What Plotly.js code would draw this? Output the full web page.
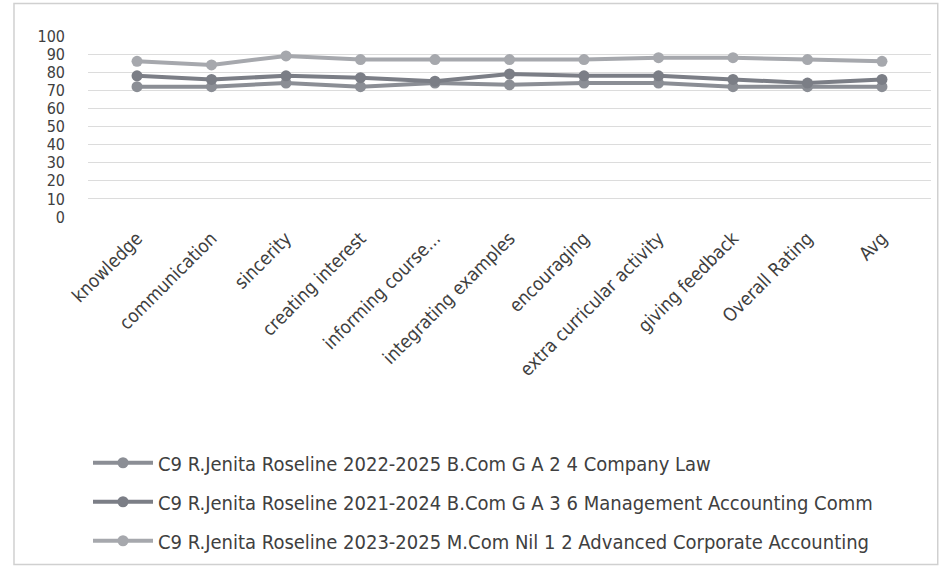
<!DOCTYPE html>
<html>
<head>
<meta charset="utf-8">
<script src="https://cdn.plot.ly/plotly-3.0.1.min.js"></script>
<style>
html,body{margin:0;padding:0;background:#fff;}
#chart{width:942px;height:569px;}
</style>
</head>
<body>
<div id="chart"></div>
<script>
const categories = ["knowledge","communication","sincerity","creating interest","informing course...","integrating examples","encouraging","extra curricular activity","giving feedback","Overall Rating","Avg"];
const seriesNames = [
  "C9 R.Jenita Roseline 2022-2025 B.Com G A 2 4 Company Law",
  "C9 R.Jenita Roseline 2021-2024 B.Com G A 3 6 Management Accounting Comm",
  "C9 R.Jenita Roseline 2023-2025 M.Com Nil 1 2 Advanced Corporate Accounting"
];
const companyLaw = [72, 72, 74, 72, 74, 73, 74, 74, 72, 72, 72];
const managementAccounting = [78, 76, 78, 77, 75, 79, 78, 78, 76, 74, 76];
const advancedCorporate = [86, 84, 89, 87, 87, 87, 87, 88, 88, 87, 86];
const yTicks = [0,10,20,30,40,50,60,70,80,90,100];

const colors = ["#8b8e95", "#7b7e86", "#a6a8ad"];
const seriesValues = [companyLaw, managementAccounting, advancedCorporate];

const traces = seriesValues.map((vals, i) => ({
  type: "scatter",
  mode: "lines+markers",
  x: categories,
  y: vals,
  name: seriesNames[i],
  legendgroup: "g" + i,
  line: {color: colors[i], width: 4},
  marker: {color: colors[i], size: 11, symbol: "circle"}
}));

const font = "'DejaVu Sans Condensed', 'Liberation Sans', Arial, sans-serif";
const layout = {
  width: 942, height: 569,
  margin: {l: 88, r: 11, t: 36, b: 352, autoexpand: false},
  paper_bgcolor: "#fff",
  plot_bgcolor: "#fff",
  showlegend: true,
  font: {family: font, color: "#404040"},
  xaxis: {
    type: "category",
    automargin: false,
    tickangle: -45,
    tickfont: {family: font, size: 18.5, color: "#404040"},
    showgrid: false,
    showline: false,
    ticks: "",
    zeroline: false,
    ticklabelstandoff: 6
  },
  yaxis: {
    automargin: false,
    range: [0, 100],
    tickvals: yTicks,
    ticktext: yTicks.map(String),
    tickfont: {family: font, size: 16, color: "#404040"},
    showgrid: true,
    gridcolor: "#dcdcdc",
    gridwidth: 1,
    zeroline: false,
    showline: false,
    ticks: "",
    ticklabelstandoff: 22
  },
  legend: {
    orientation: "v",
    x: 0.0, xanchor: "left",
    y: -1.25, yanchor: "top",
    traceorder: "grouped",
    tracegroupgap: 10,
    itemwidth: 60,
    font: {family: font, size: 20, color: "#404040"},
    bgcolor: "rgba(0,0,0,0)"
  },
  shapes: [{
    type: "rect", xref: "paper", yref: "paper",
    x0: -0.0878, x1: 1.008, y0: -1.92, y1: 1.18,
    line: {color: "#d0d0d0", width: 1.5}, fillcolor: "rgba(0,0,0,0)"
  }]
};

Plotly.newPlot("chart", traces, layout, {displayModeBar: false, staticPlot: true});
</script>
</body>
</html>
